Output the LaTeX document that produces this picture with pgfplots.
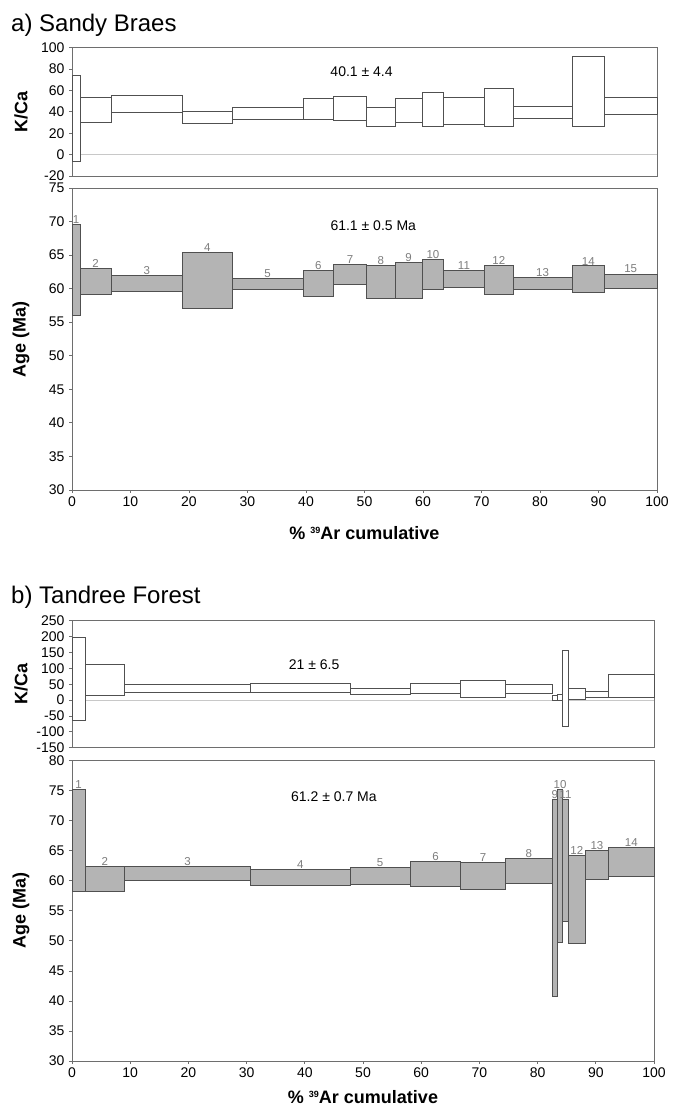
\documentclass[border=0pt]{standalone}
\usepackage{fontspec}
\setmainfont{Liberation Sans}
\usepackage{pgfplots}
\usepackage{pgfplotstable}
\pgfplotsset{compat=1.18}

\definecolor{frame}{RGB}{110,110,110}
\definecolor{boxline}{RGB}{80,80,80}
\definecolor{agefill}{RGB}{180,180,180}
\definecolor{zeroline}{RGB}{200,200,200}
\definecolor{steplbl}{RGB}{125,125,125}

% step data: cumulative 39Ar bounds (x0,x1), lower/upper of the box
\pgfplotstableread{
x0   x1    lo    hi    n
0.0  1.4   55.97 69.55 1
1.4  6.7   59.2  62.99 2
6.7  18.9  59.65 61.94 3
18.9 27.4  57.0  65.42 4
27.4 39.5  59.95 61.5  5
39.5 44.7  58.8  62.7  6
44.7 50.4  60.7  63.6  7
50.4 55.2  58.6  63.4  8
55.2 59.9  58.6  63.9  9
59.9 63.5  59.85 64.3  10
63.5 70.5  60.25 62.7  11
70.5 75.4  59.15 63.5  12
75.4 85.5  59.9  61.7  13
85.5 91.0  59.4  63.4  14
91.0 100   60.0  62.2  15
}\ageA

\pgfplotstableread{
x0   x1    lo    hi
0.0  1.4   -6.6  74.0
1.4  6.7   30.3  53.8
6.7  18.9  39.7  55.6
18.9 27.4  29.7  40.3
27.4 39.5  33.1  44.1
39.5 44.7  33.0  52.9
44.7 50.4  32.1  54.5
50.4 55.2  26.6  44.6
55.2 59.9  30.2  52.9
59.9 63.5  26.3  58.6
63.5 70.5  27.9  53.2
70.5 75.4  26.6  61.8
75.4 85.5  34.0  45.2
85.5 91.0  26.3  91.6
91.0 100   37.2  53.5
}\kcaA

\pgfplotstableread{
x0   x1    lo    hi    n
0.0  2.3   58.2  75.2  1
2.3  9.0   58.2  62.45 2
9.0  30.7  60.0  62.45 3
30.7 47.8  59.2  61.9  4
47.8 58.1  59.4  62.3  5
58.1 66.8  59.0  63.3  6
66.8 74.5  58.55 63.1  7
74.5 82.5  59.55 63.8  8
82.5 83.4  40.7  73.5  9
83.4 84.3  49.8  75.3  10
84.3 85.3  53.2  73.6  11
85.3 88.2  49.6  64.2  12
88.2 92.2  60.2  65.1  13
92.2 100   60.7  65.55 14
}\ageB

\pgfplotstableread{
x0   x1    lo    hi
0.0  2.3   -65   198
2.3  9.0   15    111
9.0  30.7  23    49
30.7 47.8  25    54
47.8 58.1  17    38
58.1 66.8  20    54
66.8 74.5  10    61
74.5 82.5  20    48
82.5 83.4  0     14
83.4 84.3  0     18
84.3 85.3  -83   157
85.3 88.2  3.5   37
88.2 92.2  10    28
92.2 100   8     81
}\kcaB

% one closed rectangle per heating step
\newcommand{\drawboxes}[2]{%
  \pgfplotstablegetrowsof{#1}%
  \pgfmathtruncatemacro{\nlast}{\pgfplotsretval-1}%
  \pgfplotsinvokeforeach{0,...,\nlast}{%
    \pgfplotstablegetelem{##1}{x0}\of{#1}\let\xa\pgfplotsretval
    \pgfplotstablegetelem{##1}{x1}\of{#1}\let\xb\pgfplotsretval
    \pgfplotstablegetelem{##1}{lo}\of{#1}\let\ya\pgfplotsretval
    \pgfplotstablegetelem{##1}{hi}\of{#1}\let\yb\pgfplotsretval
    \edef\doit{\noexpand\addplot[#2] coordinates {(\xa,\ya) (\xa,\yb) (\xb,\yb) (\xb,\ya)} -- cycle;}%
    \doit
  }%
}

\newcommand{\arlabel}{\% {\fontsize{9}{9}\selectfont\raisebox{6pt}{39}}Ar cumulative}

\pgfplotsset{
  spec/.style={
    scale only axis, xmin=0, xmax=100, clip=false,
    axis line style={frame, line width=0.9pt},
    tick style={frame, line width=0.8pt},
    tick align=outside, major tick length=3pt, tick pos=left,
    /pgf/number format/assume math mode=true,
    ticklabel style={font=\fontsize{14}{14}\selectfont},
    yticklabel style={inner sep=0.4pt, xshift=-4pt},
    label style={font=\fontsize{18}{18}\selectfont\bfseries},
  },
  kbox/.style={draw=boxline, line width=0.7pt, fill=white},
  abox/.style={draw=boxline, line width=0.7pt, fill=agefill},
  steps/.style={draw=none, nodes near coords, point meta=explicit symbolic,
    every node near coord/.append style={font=\fontsize{11.5}{11.5}\selectfont,
      text=steplbl, anchor=south, inner sep=0.6pt}},
}

\begin{document}
\begin{tikzpicture}
\path[use as bounding box] (0,0) rectangle (672pt,-1108pt);

% ---------- a) Sandy Braes ----------
\node[anchor=base west, inner sep=0, font=\fontsize{24}{24}\selectfont] at (11pt,-32pt) {a) Sandy Braes};

\begin{axis}[spec, at={(72pt,-47.7pt)}, anchor=north west,
    width=585pt, height=128.3pt,
    ymin=-20, ymax=100, ytick={-20,0,...,100}, xtick=\empty,
    ylabel={K/Ca},
    ylabel style={at={(axis description cs:-0.0872,0.5)}, anchor=center}]
\addplot[zeroline, line width=0.8pt] coordinates {(0,0) (100,0)};
\drawboxes{\kcaA}{kbox}
\node[font=\fontsize{14}{14}\selectfont] at (axis cs:49.5,78) {40.1 ± 4.4};
\end{axis}

\begin{axis}[spec, at={(72pt,-188pt)}, anchor=north west,
    width=585pt, height=302pt,
    ymin=30, ymax=75, ytick={30,35,...,75}, xtick={0,10,...,100},
    ylabel={Age (Ma)},
    ylabel style={at={(axis description cs:-0.0872,0.5)}, anchor=center},
    xlabel={\arlabel},
    xlabel style={at={(axis description cs:0.5,0)}, anchor=center, yshift=-43pt}]
\drawboxes{\ageA}{abox}
\addplot[steps] table[x expr={(\thisrow{x0}+\thisrow{x1})/2}, y=hi, meta=n] {\ageA};
\node[font=\fontsize{14}{14}\selectfont] at (axis cs:51.5,69.4) {61.1 ± 0.5 Ma};
\end{axis}

% ---------- b) Tandree Forest ----------
\node[anchor=base west, inner sep=0, font=\fontsize{24}{24}\selectfont] at (11pt,-603pt) {b) Tandree Forest};

\begin{axis}[spec, at={(72pt,-620.7pt)}, anchor=north west,
    width=582pt, height=127pt,
    ymin=-150, ymax=250, ytick={-150,-100,...,250}, xtick=\empty,
    ylabel={K/Ca},
    ylabel style={at={(axis description cs:-0.0876,0.5)}, anchor=center}]
\addplot[zeroline, line width=0.8pt] coordinates {(0,0) (100,0)};
\drawboxes{\kcaB}{kbox}
\node[font=\fontsize{14}{14}\selectfont] at (axis cs:41.6,110) {21 ± 6.5};
\end{axis}

\begin{axis}[spec, at={(72pt,-760.7pt)}, anchor=north west,
    width=582pt, height=300.3pt,
    ymin=30, ymax=80, ytick={30,35,...,80}, xtick={0,10,...,100},
    ylabel={Age (Ma)},
    ylabel style={at={(axis description cs:-0.0876,0.5)}, anchor=center},
    xlabel={\arlabel},
    xlabel style={at={(axis description cs:0.5,0)}, anchor=center, yshift=-36pt}]
\drawboxes{\ageB}{abox}
\addplot[steps] table[x expr={(\thisrow{x0}+\thisrow{x1})/2}, y=hi, meta=n] {\ageB};
\node[font=\fontsize{14}{14}\selectfont] at (axis cs:45,74) {61.2 ± 0.7 Ma};
\end{axis}
\end{tikzpicture}
\end{document}
